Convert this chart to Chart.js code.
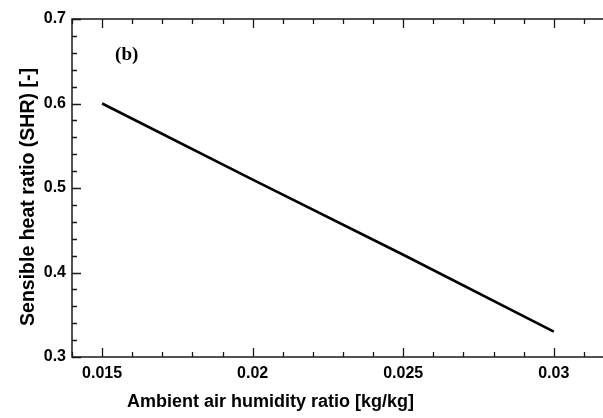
<!DOCTYPE html>
<html><head><meta charset="utf-8">
<script src="https://cdn.jsdelivr.net/npm/chart.js@4"></script>
<style>
html,body{margin:0;padding:0;background:#fff;overflow:hidden;width:603px;height:418px}
#wrap{width:616px;height:418px}
</style>
</head><body>
<div id="wrap"><canvas id="c" width="616" height="418"></canvas></div>
<script>
const humidity = [0.015, 0.020, 0.025, 0.030];
const shr = [0.600, 0.510, 0.421, 0.330];
const xTickValues = [0.015, 0.02, 0.025, 0.03];
const xTickLabels = ['0.015', '0.02', '0.025', '0.03'];
const yTickValues = [0.3, 0.4, 0.5, 0.6, 0.7];
const yTickLabels = ['0.3', '0.4', '0.5', '0.6', '0.7'];
const xTitle = 'Ambient air humidity ratio [kg/kg]';
const yTitle = 'Sensible heat ratio (SHR) [-]';
const panelLabel = '(b)';

const SANS = '"Liberation Sans", Arial, sans-serif';
const SERIF = '"Liberation Serif", "Times New Roman", serif';

const framePlugin = {
  id: 'frame',
  afterDraw(chart) {
    const ctx = chart.ctx;
    const a = chart.chartArea;
    const xs = chart.scales.x, ys = chart.scales.y;
    ctx.save();
    ctx.strokeStyle = '#1a1a1a';
    ctx.lineWidth = 1.5;
    ctx.strokeRect(a.left, a.top, a.right - a.left, a.bottom - a.top);
    ctx.lineWidth = 1.3;
    ctx.beginPath();
    // x ticks (minor every 0.001, major every 0.005)
    for (let k = 14; k <= 32; k++) {
      const v = k / 1000;
      const px = Math.round(xs.getPixelForValue(v)) + 0.5;
      const major = k % 5 === 0;
      const L = major ? 9 : 5;
      ctx.moveTo(px, a.bottom); ctx.lineTo(px, a.bottom - L);
      ctx.moveTo(px, a.top); ctx.lineTo(px, a.top + L);
    }
    // y ticks (minor every 0.02, major every 0.1)
    for (let k = 15; k <= 35; k++) {
      const v = k / 50;
      const py = Math.round(ys.getPixelForValue(v)) + 0.5;
      const major = k % 5 === 0;
      const L = major ? 9 : 5;
      ctx.moveTo(a.left, py); ctx.lineTo(a.left + L, py);
      ctx.moveTo(a.right, py); ctx.lineTo(a.right - L, py);
    }
    ctx.stroke();

    ctx.fillStyle = '#000';
    // x title
    ctx.font = 'bold 18px ' + SANS;
    ctx.textAlign = 'center';
    ctx.textBaseline = 'alphabetic';
    ctx.fillText(xTitle, 270.5, 407);
    // y title
    ctx.save();
    ctx.font = 'bold 19.5px ' + SANS;
    ctx.translate(34, 197);
    ctx.rotate(-Math.PI / 2);
    ctx.fillText(yTitle, 0, 0);
    ctx.restore();
    // panel label
    ctx.font = 'bold 19px ' + SERIF;
    ctx.textAlign = 'left';
    ctx.textBaseline = 'middle';
    ctx.fillText(panelLabel, xs.getPixelForValue(0.01543), ys.getPixelForValue(0.6575));
    ctx.restore();
  }
};

new Chart(document.getElementById('c'), {
  type: 'line',
  data: {
    datasets: [{
      data: humidity.map((x, i) => ({ x: x, y: shr[i] })),
      borderColor: '#000',
      borderWidth: 2.6,
      pointRadius: 0,
      tension: 0,
      fill: false
    }]
  },
  options: {
    responsive: false,
    animation: false,
    devicePixelRatio: 1,
    layout: { padding: { top: 19, right: 2, left: 0, bottom: 0 } },
    plugins: { legend: { display: false }, tooltip: { enabled: false } },
    scales: {
      x: {
        type: 'linear', min: 0.014, max: 0.032,
        grid: { display: false, drawTicks: false },
        border: { display: false },
        afterBuildTicks: s => { s.ticks = xTickValues.map(v => ({ value: v })); },
        afterFit: s => { s.height = 61; },
        ticks: {
          autoSkip: false, maxRotation: 0, padding: 7, color: '#000',
          font: { family: SANS, size: 16, weight: 'bold' },
          callback: (v) => { const i = xTickValues.findIndex(t => Math.abs(t - v) < 1e-9); return i >= 0 ? xTickLabels[i] : ''; }
        }
      },
      y: {
        type: 'linear', min: 0.3, max: 0.7,
        grid: { display: false, drawTicks: false },
        border: { display: false },
        afterBuildTicks: s => { s.ticks = yTickValues.map(v => ({ value: v })); },
        afterFit: s => { s.width = 72; },
        ticks: {
          autoSkip: false, padding: 6, color: '#000',
          font: { family: SANS, size: 16, weight: 'bold' },
          callback: (v) => { const i = yTickValues.findIndex(t => Math.abs(t - v) < 1e-9); return i >= 0 ? yTickLabels[i] : ''; }
        }
      }
    }
  },
  plugins: [framePlugin]
});
</script>
</body></html>
